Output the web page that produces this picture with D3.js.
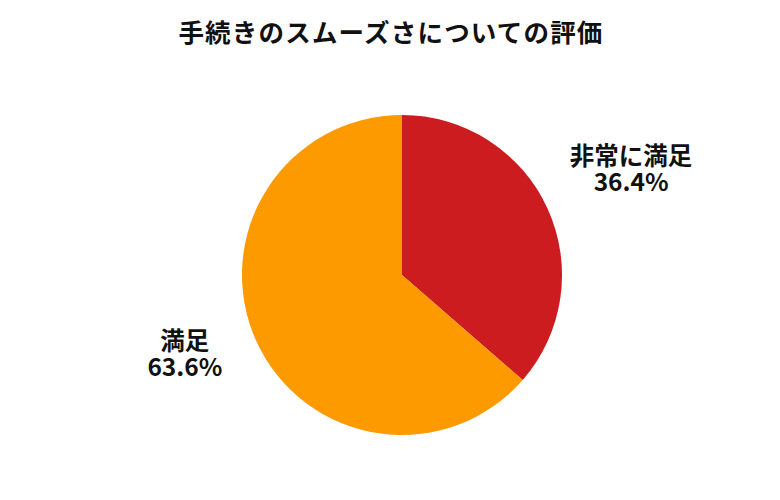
<!DOCTYPE html>
<html>
<head>
<meta charset="utf-8">
<script src="https://cdn.jsdelivr.net/npm/d3@7"></script>
<style>
  body { margin: 0; background: #fff; }
  text { font-family: "Noto Sans CJK JP", "Noto Sans", sans-serif; font-weight: 700; fill: #111; }
</style>
</head>
<body>
<script>
// Pie chart: 手続きのスムーズさについての評価

const width = 780;
const height = 500;

const categories = ["非常に満足", "満足"];
const shares = [36.4, 63.6];
const colors = ["#cc1c1f", "#fd9a00"];

const radius = 160;
const cx = 402, cy = 275;

const svg = d3.select("body")
    .append("svg")
    .attr("width", width)
    .attr("height", height);

svg.append("text")
    .attr("x", 391)
    .attr("y", 42)
    .attr("text-anchor", "middle")
    .style("font-size", "25.5px")
    .style("letter-spacing", "1.2px")
    .text("手続きのスムーズさについての評価");

const data = categories.map((c, i) => ({ name: c, value: shares[i], color: colors[i] }));

const pie = d3.pie().sort(null).value(d => d.value);
const arc = d3.arc().innerRadius(0).outerRadius(radius);

const g = svg.append("g").attr("transform", `translate(${cx},${cy})`);

g.selectAll("path")
    .data(pie(data))
    .join("path")
    .attr("d", arc)
    .attr("fill", d => d.data.color);

// labels: name + share in one text, pushed out along the slice's middle angle
const labels = g.selectAll("text.label")
    .data(pie(data))
    .join("text")
    .attr("class", "label")
    .attr("text-anchor", "middle")
    .style("font-size", "24.5px");

labels.append("tspan")
    .attr("x", 0)
    .attr("y", -4)
    .text(d => d.data.name);

labels.append("tspan")
    .attr("x", 0)
    .attr("y", 22)
    .text(d => d.data.value.toFixed(1) + "%");

labels.attr("transform", function (d) {
    const w = this.getBBox().width;
    const r = radius + 55 + w * 0.3;
    const [x, y] = d3.arc().innerRadius(r).outerRadius(r).centroid(d);
    const lift = y > 0 ? 19 : 2;
    return `translate(${x - (y > 0 ? 1 : 0)},${y - lift})`;
});
</script>
</body>
</html>
